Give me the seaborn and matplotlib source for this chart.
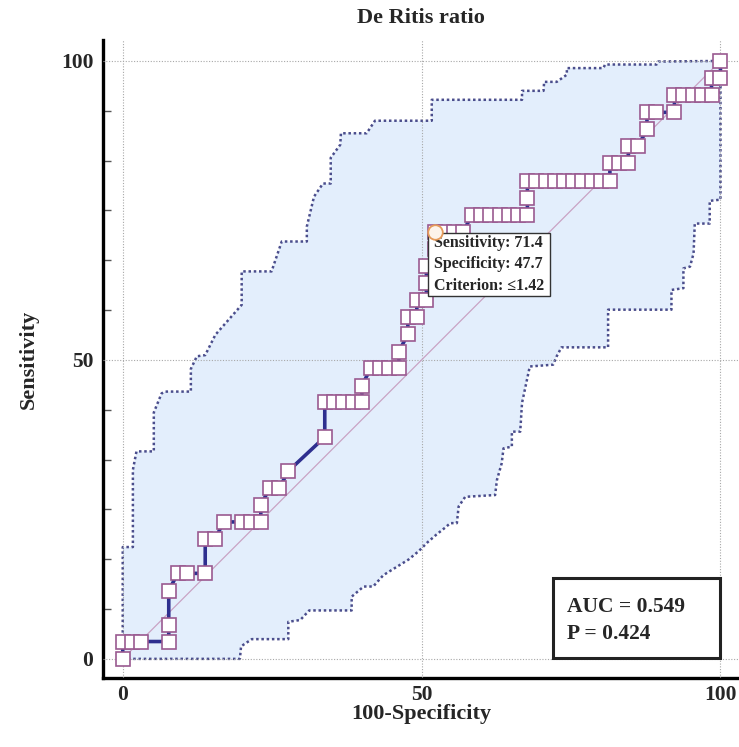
import numpy as np
import pandas as pd
import matplotlib
matplotlib.use("Agg")
import matplotlib.pyplot as plt
import seaborn as sns
from matplotlib.patches import Rectangle
from matplotlib.ticker import MultipleLocator

# ROC points: 100-Specificity (x) and Sensitivity (y), in %
roc_fpr = [0, 0, 1.5, 3.1, 7.7, 7.7, 7.7, 9.2, 10.8, 13.8, 13.8, 15.4, 16.9, 20.0,
           21.5, 23.1, 23.1, 24.6, 26.2, 27.7, 33.8, 33.8, 35.4, 36.9, 38.5, 40.0,
           40.0, 41.5, 43.1, 44.6, 46.2, 46.2, 47.7, 47.7, 49.2, 49.2, 50.8, 50.8,
           50.8, 52.3, 52.3, 53.8, 55.4, 56.9, 58.5, 60.0, 61.5, 63.1, 64.6, 66.2,
           67.7, 67.7, 67.7, 69.2, 70.8, 72.3, 73.8, 75.4, 76.9, 78.5, 80.0, 81.5,
           81.5, 83.1, 84.6, 84.6, 86.2, 87.7, 87.7, 89.2, 92.3, 92.3, 93.8, 95.4,
           96.9, 98.5, 98.5, 100, 100]
roc_sens = [0, 2.9, 2.9, 2.9, 2.9, 5.7, 11.4, 14.3, 14.3, 14.3, 20.0, 20.0, 22.9, 22.9,
            22.9, 22.9, 25.7, 28.6, 28.6, 31.4, 37.1, 42.9, 42.9, 42.9, 42.9, 42.9,
            45.7, 48.6, 48.6, 48.6, 48.6, 51.4, 54.3, 57.1, 57.1, 60.0, 60.0, 62.9,
            65.7, 68.6, 71.4, 71.4, 71.4, 71.4, 74.3, 74.3, 74.3, 74.3, 74.3, 74.3,
            74.3, 77.1, 80.0, 80.0, 80.0, 80.0, 80.0, 80.0, 80.0, 80.0, 80.0, 80.0,
            82.9, 82.9, 82.9, 85.7, 85.7, 88.6, 91.4, 91.4, 91.4, 94.3, 94.3, 94.3,
            94.3, 94.3, 97.1, 97.1, 100]

# confidence bounds (upper / lower)
upper_x = [0, 0, 1.7, 1.7, 2.3, 5.2, 5.2, 6.5, 7.1, 11.4, 11.4, 12.4, 13.8, 15.5,
           19.9, 19.9, 24.9, 26.6, 30.8, 30.8, 32.0, 33.5, 34.8, 34.8, 36.4, 36.5,
           40.8, 42.2, 51.7, 51.7, 66.8, 66.8, 70.4, 70.5, 72.6, 74.3, 74.3, 80.4,
           80.7, 89.3, 89.6, 100]
upper_y = [0, 18.7, 18.7, 31.6, 34.7, 34.7, 41.2, 44.4, 44.7, 44.7, 48.5, 50.6, 50.8,
           54.2, 59.2, 64.8, 64.8, 69.8, 69.8, 72.3, 77.3, 79.5, 79.5, 83.8, 86.0,
           87.9, 87.9, 90.0, 90.0, 93.5, 93.5, 95.0, 95.0, 96.5, 96.5, 97.7, 98.8,
           98.8, 99.4, 99.4, 99.9, 100]
lower_x = [0, 19.6, 19.8, 21.6, 27.7, 27.7, 29.7, 31.2, 38.3, 38.3, 40.3, 41.9, 43.6,
           47.8, 49.5, 51.0, 52.5, 54.0, 54.8, 55.9, 56.2, 57.3, 62.3, 62.6, 63.4,
           63.7, 65.1, 65.1, 66.5, 66.8, 68.1, 72.0, 72.6, 73.4, 81.2, 81.2, 91.8,
           91.8, 93.8, 93.8, 94.9, 95.5, 95.7, 98.2, 98.2, 100, 100]
lower_y = [0, 0, 2.1, 3.3, 3.3, 6.2, 6.5, 8.1, 8.1, 10.4, 12.1, 12.1, 14.0, 16.6,
           18.0, 19.5, 20.8, 22.0, 22.7, 22.7, 25.5, 27.1, 27.4, 29.9, 32.7, 35.2,
           35.5, 38.0, 38.0, 42.8, 48.9, 49.2, 50.6, 52.1, 52.1, 58.4, 58.4, 61.7,
           62.0, 65.3, 65.6, 67.8, 72.8, 72.8, 76.6, 76.8, 100]

best_fpr = 52.3
best_sens = 71.4
callout_lines = ["Sensitivity: 71.4", "Specificity: 47.7", "Criterion: \u22641.42"]
auc_lines = ["AUC = 0.549", "P = 0.424"]

sns.set_style("white")
plt.rcParams['font.family'] = ['Liberation Serif', 'DejaVu Serif']
plt.rcParams['font.weight'] = 'bold'

fig = plt.figure(figsize=(7.39, 7.47), dpi=100)
ax = fig.add_axes([103 / 739, 1 - 678 / 747, 636 / 739, 638 / 747])

# confidence band
ax.fill(upper_x + lower_x[::-1], upper_y + lower_y[::-1],
        color='#e3eefc', lw=0, zorder=1)
dot = (0, (1, 1.1))
ax.plot(upper_x, upper_y, color='#4a4d8c', lw=1.8, ls=dot, zorder=2)
ax.plot(lower_x, lower_y, color='#4a4d8c', lw=1.8, ls=dot, zorder=2)

# grid
for v in [0, 50, 100]:
    ax.axvline(v, color='#a8a8a8', lw=0.8, ls=(0, (1, 1.5)), zorder=3)
    ax.axhline(v, color='#a8a8a8', lw=0.8, ls=(0, (1, 1.5)), zorder=3)

# reference diagonal
sns.lineplot(x=[0, 100], y=[0, 100], color='#c9a3c4', lw=0.9, ax=ax, zorder=4)

# ROC curve
roc = pd.DataFrame({'fpr': roc_fpr, 'sens': roc_sens})
sns.lineplot(data=roc, x='fpr', y='sens', sort=False, estimator=None,
             color='#2e2f8f', lw=2.6, ax=ax, zorder=5)
ax.plot(roc['fpr'], roc['sens'], ls='none', marker='s', ms=9.8,
        mfc='white', mec='#9a5a90', mew=1.2, zorder=6)
ax.plot([best_fpr], [best_sens], ls='none', marker='o', ms=10.5,
        mfc='#fdf3ea', mec='#e59a5a', mew=1.3, zorder=10)

# callout box
ax.add_patch(Rectangle((51.1, 60.7), 20.4, 10.5, facecolor='white',
                       edgecolor='#333333', lw=1.0, zorder=8))
for i, t in enumerate(callout_lines):
    ax.text(52.0, 69.6 - i * 3.6, t, fontsize=11.5, fontweight='bold',
            va='center', ha='left', zorder=9)

# AUC box
ax.add_patch(Rectangle((72.0, 0.1), 28.0, 13.4, facecolor='white',
                       edgecolor='#222222', lw=2.2, zorder=8))
for i, t in enumerate(auc_lines):
    ax.text(74.4, 8.6 - i * 4.5, t, fontsize=15.5, fontweight='bold',
            va='center', ha='left', zorder=9)

ax.set_xlim(-3.3, 103.1)
ax.set_ylim(-3.2, 103.5)
ax.set_xticks([0, 50, 100])
ax.set_yticks([0, 50, 100])
ax.yaxis.set_minor_locator(MultipleLocator(50 / 6))
ax.tick_params(axis='both', which='major', direction='in', length=13, width=2.2,
               color='#333333', labelsize=15.5, pad=7)
ax.tick_params(axis='x', which='major', pad=5)
ax.tick_params(axis='y', which='minor', direction='in', length=6, width=1,
               color='#555555', left=True)
ax.tick_params(axis='x', which='minor', bottom=False)
for lab in ax.get_xticklabels() + ax.get_yticklabels():
    lab.set_fontweight('bold')

for s in ['top', 'right']:
    ax.spines[s].set_visible(False)
for s in ['left', 'bottom']:
    ax.spines[s].set_linewidth(2.4)
    ax.spines[s].set_color('black')

ax.set_xlabel('100-Specificity', fontsize=16, fontweight='bold', labelpad=-1)
ax.set_ylabel('Sensitivity', fontsize=16, fontweight='bold', labelpad=16)
fig.text(421 / 739, 1 - 18 / 747, 'De Ritis ratio', fontsize=16,
         fontweight='bold', ha='center', va='center')

fig.savefig('out.png', dpi=100)
